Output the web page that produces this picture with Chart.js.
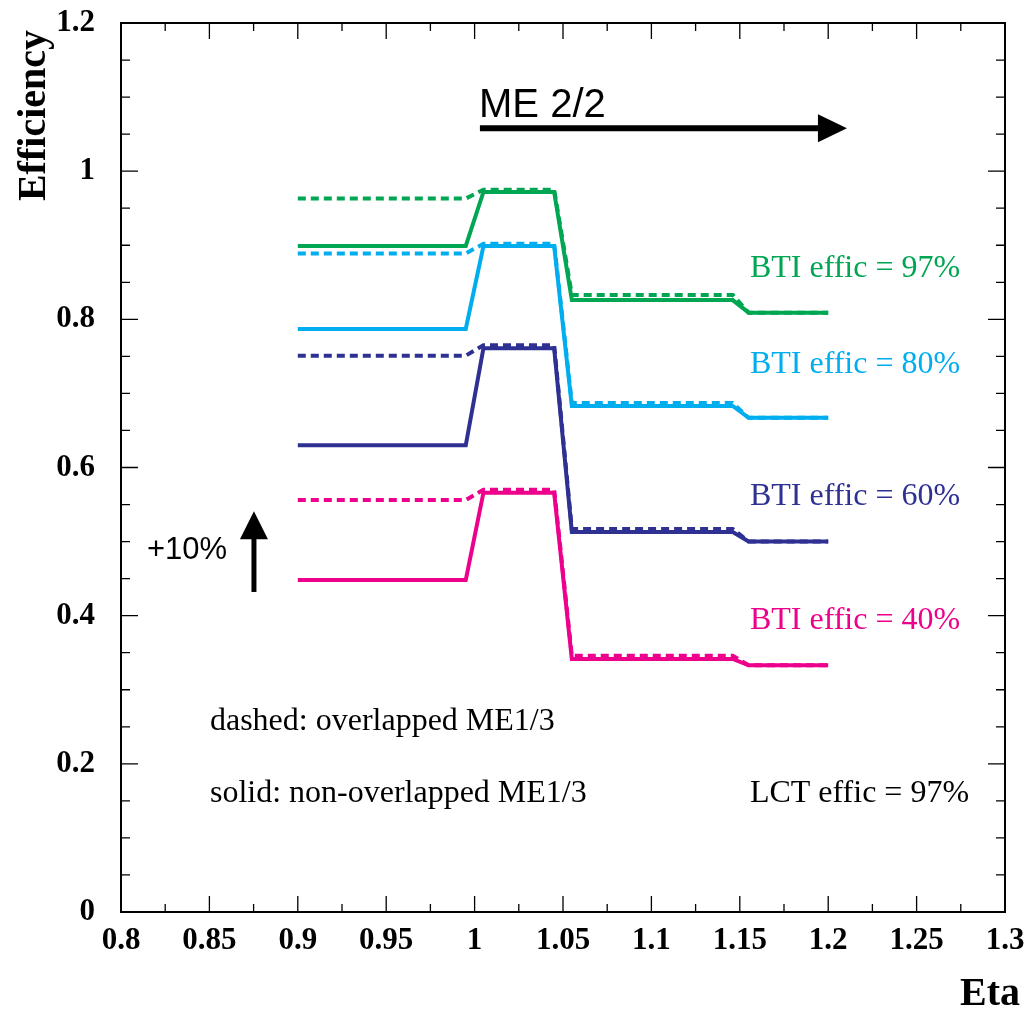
<!DOCTYPE html>
<html>
<head>
<meta charset="utf-8">
<script src="https://cdn.jsdelivr.net/npm/chart.js@4"></script>
<style>
  body { margin: 0; background: #fff; }
  #wrap { width: 1031px; height: 1012px; }
</style>
</head>
<body>
<div id="wrap"><canvas id="effChart"></canvas></div>
<script>
// eta break points shared by every curve
var etaPoints = [0.9, 0.995, 1.005, 1.045, 1.055, 1.146, 1.155, 1.2];

// efficiency, solid = non-overlapped ME1/3, dashed = overlapped
var greenSolid  = [0.899, 0.899, 0.972, 0.972, 0.826, 0.826, 0.809, 0.809];
var greenDashed = [0.963, 0.963, 0.975, 0.975, 0.833, 0.833, 0.809, 0.809];
var cyanSolid   = [0.787, 0.787, 0.899, 0.899, 0.683, 0.683, 0.667, 0.667];
var cyanDashed  = [0.889, 0.889, 0.902, 0.902, 0.687, 0.687, 0.667, 0.667];
var navySolid   = [0.630, 0.630, 0.761, 0.761, 0.513, 0.513, 0.500, 0.500];
var navyDashed  = [0.751, 0.751, 0.765, 0.765, 0.517, 0.517, 0.500, 0.500];
var pinkSolid   = [0.448, 0.448, 0.566, 0.566, 0.3415, 0.3415, 0.333, 0.333];
var pinkDashed  = [0.556, 0.556, 0.570, 0.570, 0.346, 0.346, 0.333, 0.333];

var btiLabels = ["BTI effic = 97%", "BTI effic = 80%", "BTI effic = 60%", "BTI effic = 40%"];
var btiLabelY = [0.857, 0.728, 0.549, 0.382];

var xTickValues = [0.8, 0.85, 0.9, 0.95, 1, 1.05, 1.1, 1.15, 1.2, 1.25, 1.3];
var yTickValues = [0, 0.2, 0.4, 0.6, 0.8, 1, 1.2];

var GREEN = '#00a651', CYAN = '#00aeef', NAVY = '#2e3192', PINK = '#ec008c';

function toXY(vals) {
    var pts = [];
    for (var i = 0; i < etaPoints.length; i++) pts.push({ x: etaPoints[i], y: vals[i] });
    return pts;
}
function curve(vals, color, dashed) {
    return {
        data: toXY(vals),
        showLine: true,
        borderColor: color,
        borderWidth: 4,
        borderDash: dashed ? [8, 5] : [],
        pointRadius: 0,
        tension: 0,
        fill: false
    };
}

// frame, inward ticks, titles and the text notes
var decor = {
    id: 'decor',
    afterDraw: function(chart) {
        var ctx = chart.ctx, a = chart.chartArea;
        var xs = chart.scales.x, ys = chart.scales.y;
        ctx.save();
        ctx.strokeStyle = '#000';
        ctx.lineWidth = 2;
        ctx.strokeRect(a.left, a.top, a.right - a.left, a.bottom - a.top);
        ctx.lineWidth = 1.3;
        ctx.beginPath();
        for (var v = 0; v <= 1.2001; v += 0.05) {
            var py = ys.getPixelForValue(v);
            var len = (Math.round(v * 100) % 20 === 0) ? 17 : 9;
            ctx.moveTo(a.left, py); ctx.lineTo(a.left + len, py);
            ctx.moveTo(a.right, py); ctx.lineTo(a.right - len, py);
        }
        for (var e = 0.8; e <= 1.3001; e += 0.025) {
            var px = xs.getPixelForValue(e);
            var l2 = (Math.round(e * 1000) % 50 === 0) ? 16 : 8;
            ctx.moveTo(px, a.bottom); ctx.lineTo(px, a.bottom - l2);
            ctx.moveTo(px, a.top); ctx.lineTo(px, a.top + l2);
        }
        ctx.stroke();

        // axis titles
        ctx.fillStyle = '#000';
        ctx.font = 'bold 40px "Liberation Serif", serif';
        ctx.save();
        ctx.translate(45, 30);
        ctx.rotate(-Math.PI / 2);
        ctx.textAlign = 'right';
        ctx.textBaseline = 'alphabetic';
        ctx.fillText('Efficiency', 0, 0);
        ctx.restore();
        ctx.font = 'bold 40px "Liberation Serif", serif';
        ctx.textAlign = 'right';
        ctx.fillText('Eta', 1020, 1005);

        // ME 2/2 arrow
        ctx.textAlign = 'left';
        ctx.font = '40px "Liberation Sans", Arial, sans-serif';
        ctx.fillText('ME 2/2', xs.getPixelForValue(1.0025), ys.getPixelForValue(1.073));
        var ay = ys.getPixelForValue(1.058);
        var ax0 = xs.getPixelForValue(1.003), ax1 = xs.getPixelForValue(1.2106);
        ctx.lineWidth = 6;
        ctx.beginPath(); ctx.moveTo(ax0, ay); ctx.lineTo(ax1 - 20, ay); ctx.stroke();
        ctx.beginPath();
        ctx.moveTo(ax1, ay); ctx.lineTo(ax1 - 29, ay - 14); ctx.lineTo(ax1 - 29, ay + 14);
        ctx.closePath(); ctx.fill();

        // +10% arrow
        ctx.font = '31px "Liberation Sans", Arial, sans-serif';
        ctx.textBaseline = 'middle';
        ctx.fillText('+10%', xs.getPixelForValue(0.8147), ys.getPixelForValue(0.488));
        var ux = xs.getPixelForValue(0.8752);
        var uy0 = ys.getPixelForValue(0.432), uy1 = ys.getPixelForValue(0.541);
        ctx.lineWidth = 5;
        ctx.beginPath(); ctx.moveTo(ux, uy0); ctx.lineTo(ux, uy1 + 20); ctx.stroke();
        ctx.beginPath();
        ctx.moveTo(ux, uy1); ctx.lineTo(ux - 14, uy1 + 28); ctx.lineTo(ux + 14, uy1 + 28);
        ctx.closePath(); ctx.fill();

        // notes
        ctx.textBaseline = 'alphabetic';
        ctx.font = '32px "Liberation Serif", serif';
        ctx.fillText('dashed: overlapped ME1/3', xs.getPixelForValue(0.8503), ys.getPixelForValue(0.245));
        ctx.fillText('solid: non-overlapped ME1/3', xs.getPixelForValue(0.8503), ys.getPixelForValue(0.148));
        ctx.fillText('LCT effic = 97%', xs.getPixelForValue(1.1557), ys.getPixelForValue(0.148));
        var cols = [GREEN, CYAN, NAVY, PINK];
        for (var i = 0; i < btiLabels.length; i++) {
            ctx.fillStyle = cols[i];
            ctx.fillText(btiLabels[i], xs.getPixelForValue(1.1557), ys.getPixelForValue(btiLabelY[i]));
        }
        ctx.restore();
    }
};

var ctx = document.getElementById('effChart');
var effChart = new Chart(ctx, {
    type: 'scatter',
    data: {
        datasets: [
            curve(greenSolid, GREEN, false),
            curve(cyanSolid, CYAN, false),
            curve(navySolid, NAVY, false),
            curve(pinkSolid, PINK, false),
            curve(greenDashed, GREEN, true),
            curve(cyanDashed, CYAN, true),
            curve(navyDashed, NAVY, true),
            curve(pinkDashed, PINK, true)
        ]
    },
    options: {
        responsive: true,
        maintainAspectRatio: false,
        animation: false,
        layout: { padding: { top: 23, right: 26, left: 0, bottom: 0 } },
        plugins: { legend: { display: false }, tooltip: { enabled: false } },
        scales: {
            x: {
                type: 'linear',
                min: 0.8,
                max: 1.3,
                grid: { display: false, drawTicks: false },
                border: { display: false },
                afterBuildTicks: function(scale) {
                    scale.ticks = xTickValues.map(function(v) { return { value: v }; });
                },
                afterFit: function(scale) {
                    scale.height = 100;
                    scale.paddingLeft = 0;
                    scale.paddingRight = 0;
                },
                ticks: {
                    padding: 10,
                    maxRotation: 0,
                    autoSkip: false,
                    color: '#000',
                    font: { family: '"Liberation Serif", serif', size: 31, weight: 'bold' },
                    callback: function(v) { return String(+(+v).toFixed(3)); }
                }
            },
            y: {
                type: 'linear',
                min: 0,
                max: 1.2,
                grid: { display: false, drawTicks: false },
                border: { display: false },
                afterBuildTicks: function(scale) {
                    scale.ticks = yTickValues.map(function(v) { return { value: v }; });
                },
                afterFit: function(scale) {
                    scale.width = 121;
                    scale.paddingTop = 0;
                    scale.paddingBottom = 0;
                },
                ticks: {
                    padding: 26,
                    autoSkip: false,
                    color: '#000',
                    font: { family: '"Liberation Serif", serif', size: 31, weight: 'bold' },
                    callback: function(v) { return String(+(+v).toFixed(3)); }
                }
            }
        }
    },
    plugins: [decor]
});
</script>
</body>
</html>
